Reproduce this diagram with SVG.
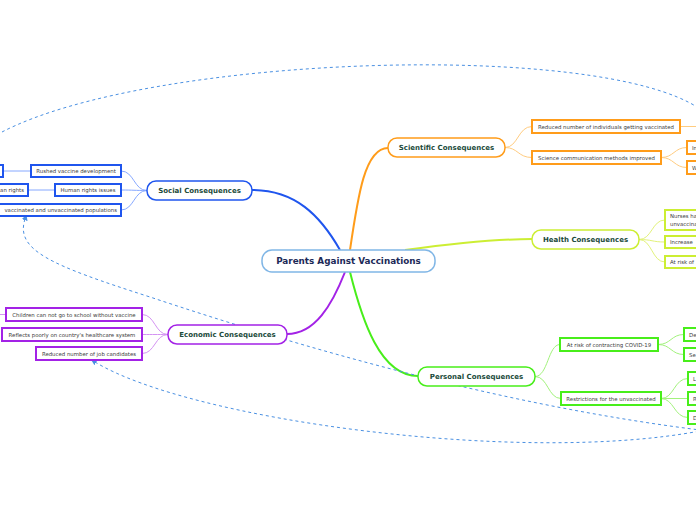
<svg xmlns="http://www.w3.org/2000/svg" width="696" height="520" viewBox="0 0 696 520">
<defs>
<style>
.main{fill:#fff;stroke:#80b6e6;stroke-width:1.5}
.mt{font-family:"DejaVu Sans",Verdana,sans-serif;font-weight:bold;font-size:8.8px;fill:#1c2a58;text-anchor:middle}
.l1{fill:#fff;stroke-width:1.5}
.t1{font-family:"DejaVu Sans",Verdana,sans-serif;font-weight:bold;font-size:7px;fill:#1a4a3a;text-anchor:middle}
.box{fill:#fff;stroke-width:2}
.t2{font-family:"DejaVu Sans",Verdana,sans-serif;font-size:5.4px;fill:#3a3a3a;text-anchor:middle}
.t2s{font-family:"DejaVu Sans",Verdana,sans-serif;font-size:5.4px;fill:#3a3a3a}
.t2e{font-family:"DejaVu Sans",Verdana,sans-serif;font-size:5.4px;fill:#3a3a3a;text-anchor:end}
.blue{stroke:#1f55ee}
.orange{stroke:#ff9c1a}
.yg{stroke:#ccee33}
.purple{stroke:#a322e6}
.green{stroke:#48ee1a}
.c{fill:none}
.dash{fill:none;stroke:#4a90e2;stroke-width:1;stroke-dasharray:3 3}
</style>
<marker id="arr" viewBox="0 0 10 10" refX="2" refY="5" markerWidth="6" markerHeight="6" orient="auto-start-reverse" markerUnits="userSpaceOnUse">
<path d="M0,0 L10,5 L0,10 z" fill="#4a90e2"/>
</marker>
</defs>
<rect width="696" height="520" fill="#fff"/>

<g id="connectors">
<!-- main branches -->
<path class="c" stroke="#1f55ee" stroke-width="2" d="M340,250 C320,215 295,190 252,190"/>
<path class="c" stroke="#ff9c1a" stroke-width="2" d="M350,250 C358,195 365,148 388,148"/>
<path class="c" stroke="#ccee33" stroke-width="2" d="M405,250 C450,244 500,239 532,239"/>
<path class="c" stroke="#a322e6" stroke-width="2" d="M345,272 C332,305 315,334 287,334"/>
<path class="c" stroke="#48ee1a" stroke-width="2" d="M350,272 C362,320 380,376 418,376"/>
<!-- social -->
<g stroke="#86a8ff" stroke-width="1" fill="none">
<path d="M147,190.5 C134,190.5 134,171 121,171"/>
<path d="M147,190.5 C134,190.5 134,190 121,190"/>
<path d="M147,190.5 C134,190.5 134,210 121,210"/>
<path d="M31,171 L3,171"/>
<path d="M55,190 L28,190"/>
</g>
<!-- scientific -->
<g stroke="#ffcc80" stroke-width="1" fill="none">
<path d="M505,147.5 C518,147.5 518,126.5 532,126.5"/>
<path d="M505,147.5 C518,147.5 518,157.5 532,157.5"/>
<path d="M680,126.5 L700,126.5"/>
<path d="M661,157.5 C674,157.5 674,147.5 687,147.5"/>
<path d="M661,157.5 C674,157.5 674,167.5 687,167.5"/>
</g>
<!-- health -->
<g stroke="#e2f27a" stroke-width="1" fill="none">
<path d="M639,239.5 C652,239.5 652,220 665,220"/>
<path d="M639,239.5 C652,239.5 652,242 665,242"/>
<path d="M639,239.5 C652,239.5 652,262 665,262"/>
</g>
<!-- economic -->
<g stroke="#d493f2" stroke-width="1" fill="none">
<path d="M168,334.5 C155,334.5 155,314.5 142,314.5"/>
<path d="M168,334.5 C155,334.5 155,334.5 142,334.5"/>
<path d="M168,334.5 C155,334.5 155,353.5 142,353.5"/>
<path d="M6,314.5 L-4,314.5"/>
</g>
<!-- personal -->
<g stroke="#a2f27c" stroke-width="1" fill="none">
<path d="M535,376.5 C548,376.5 548,344.5 560,344.5"/>
<path d="M535,376.5 C548,376.5 548,398.5 561,398.5"/>
<path d="M658,344.5 C671,344.5 671,334.5 684,334.5"/>
<path d="M658,344.5 C671,344.5 671,354.5 684,354.5"/>
<path d="M661,398.5 C674,398.5 674,378.5 688,378.5"/>
<path d="M661,398.5 L688,398.5"/>
<path d="M661,398.5 C674,398.5 674,417.5 688,417.5"/>
</g>
<!-- dashed relations -->
<path class="dash" d="M2,132 C150,55 600,40 700,109"/>
<path class="dash" marker-start="url(#arr)" d="M25,219 C15,250 50,265 150,297 C300,347 500,405 700,430"/>
<path class="dash" marker-start="url(#arr)" d="M95,362 C190,420 520,465 700,431"/>
</g>

<g id="main">
<rect class="main" x="262" y="250" width="173" height="22" rx="10"/>
<text class="mt" x="348.5" y="264.3">Parents Against Vaccinations</text>
</g>

<g id="social">
<rect class="l1 blue" x="147" y="181" width="105" height="19" rx="9"/>
<text class="t1" x="199.5" y="193">Social Consequences</text>
</g>
<g id="social-rushed">
<rect class="box blue" x="31" y="165" width="90" height="12"/>
<text class="t2" x="76" y="173">Rushed vaccine development</text>
</g>
<g id="social-rushed-child">
<rect class="box blue" x="-60" y="165" width="63" height="12"/>
</g>
<g id="social-human">
<rect class="box blue" x="55" y="184" width="66" height="12"/>
<text class="t2" x="88" y="192">Human rights issues</text>
</g>
<g id="social-human-child">
<rect class="box blue" x="-50" y="184" width="78" height="12"/>
<text class="t2e" x="24" y="192">an rights</text>
</g>
<g id="social-populations">
<rect class="box blue" x="-40" y="204" width="161" height="12"/>
<text class="t2e" x="117" y="212">vaccinated and unvaccinated populations</text>
</g>

<g id="scientific">
<rect class="l1 orange" x="388" y="138" width="117" height="19" rx="9"/>
<text class="t1" x="446.5" y="150">Scientific Consequences</text>
</g>
<g id="sci-reduced">
<rect class="box orange" x="532" y="120" width="148" height="13"/>
<text class="t2" x="606" y="128.5">Reduced number of individuals getting vaccinated</text>
</g>
<g id="sci-comm">
<rect class="box orange" x="532" y="151" width="129" height="13"/>
<text class="t2" x="596.5" y="159.5">Science communication methods improved</text>
</g>
<g id="sci-comm-1">
<rect class="box orange" x="687" y="141" width="60" height="13"/>
<text class="t2s" x="692" y="149.5">In</text>
</g>
<g id="sci-comm-2">
<rect class="box orange" x="687" y="161" width="60" height="13"/>
<text class="t2s" x="692" y="169.5">W</text>
</g>

<g id="health">
<rect class="l1 yg" x="532" y="230" width="107" height="19" rx="9"/>
<text class="t1" x="585.5" y="242">Health Consequences</text>
</g>
<g id="health-nurses">
<rect class="box yg" x="665" y="210" width="60" height="20"/>
<text class="t2s" x="670" y="218">Nurses ha</text>
<text class="t2s" x="670" y="226">unvaccina</text>
</g>
<g id="health-increase">
<rect class="box yg" x="665" y="236" width="60" height="12"/>
<text class="t2s" x="670" y="244">Increase</text>
</g>
<g id="health-risk">
<rect class="box yg" x="665" y="256" width="60" height="12"/>
<text class="t2s" x="670" y="264">At risk of</text>
</g>

<g id="economic">
<rect class="l1 purple" x="168" y="325" width="119" height="19" rx="9"/>
<text class="t1" x="227.5" y="337">Economic Consequences</text>
</g>
<g id="eco-school">
<rect class="box purple" x="6" y="308" width="136" height="13"/>
<text class="t2" x="74" y="316.5">Children can not go to school without vaccine</text>
</g>
<g id="eco-reflects">
<rect class="box purple" x="2" y="328" width="140" height="13"/>
<text class="t2" x="72" y="336.5">Reflects poorly on country's healthcare system</text>
</g>
<g id="eco-jobs">
<rect class="box purple" x="36" y="347" width="106" height="13"/>
<text class="t2" x="89" y="355.5">Reduced number of job candidates</text>
</g>

<g id="personal">
<rect class="l1 green" x="418" y="367" width="117" height="19" rx="9"/>
<text class="t1" x="476.5" y="379">Personal Consequences</text>
</g>
<g id="per-covid">
<rect class="box green" x="560" y="338" width="98" height="13"/>
<text class="t2" x="609" y="346.5">At risk of contracting COVID-19</text>
</g>
<g id="per-covid-1">
<rect class="box green" x="684" y="328" width="60" height="13"/>
<text class="t2s" x="689" y="336.5">De</text>
</g>
<g id="per-covid-2">
<rect class="box green" x="684" y="348" width="60" height="13"/>
<text class="t2s" x="689" y="356.5">Se</text>
</g>
<g id="per-restrict">
<rect class="box green" x="561" y="392" width="100" height="13"/>
<text class="t2" x="611" y="400.5">Restrictions for the unvaccinated</text>
</g>
<g id="per-restrict-1">
<rect class="box green" x="688" y="372" width="60" height="13"/>
<text class="t2s" x="693" y="380.5">L</text>
</g>
<g id="per-restrict-2">
<rect class="box green" x="688" y="392" width="60" height="13"/>
<text class="t2s" x="693" y="400.5">R</text>
</g>
<g id="per-restrict-3">
<rect class="box green" x="688" y="411" width="60" height="13"/>
<text class="t2s" x="693" y="419.5">D</text>
</g>
</svg>
